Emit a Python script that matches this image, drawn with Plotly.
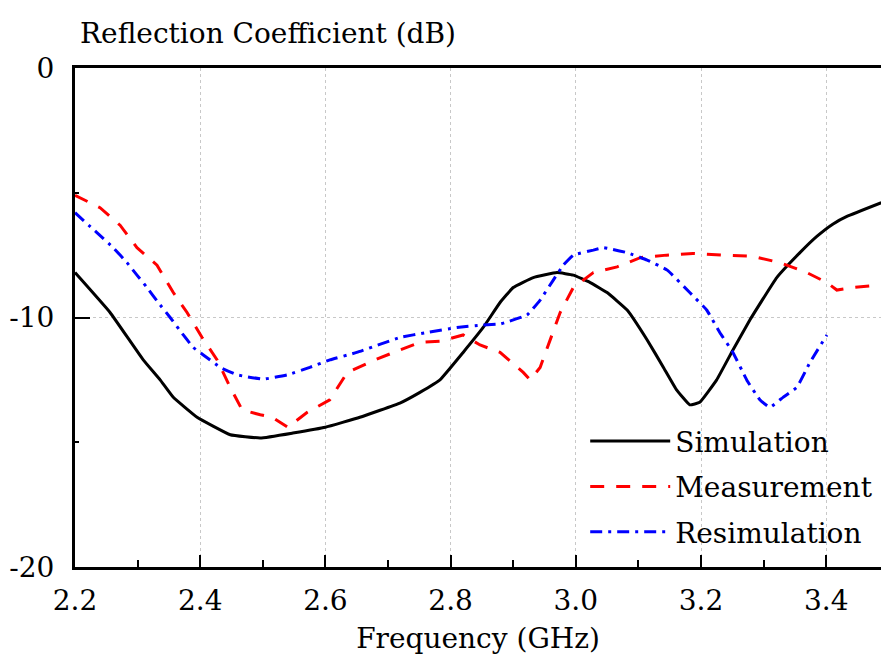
import plotly.graph_objects as go

# ---- data ----
freq_sim = [2.2, 2.256, 2.309, 2.336, 2.357, 2.395, 2.448, 2.496, 2.548, 2.6, 2.655,
            2.719, 2.751, 2.783, 2.82, 2.852, 2.879, 2.9, 2.932, 2.97, 2.996, 3.023,
            3.05, 3.082, 3.114, 3.14, 3.161, 3.182, 3.198, 3.225, 3.251, 3.278,
            3.321, 3.358, 3.385, 3.411, 3.433, 3.488]
s11_sim = [-8.2, -9.8, -11.7, -12.5, -13.2, -14.0, -14.7, -14.83, -14.63, -14.4, -14.0,
           -13.43, -13.0, -12.5, -11.4, -10.4, -9.4, -8.8, -8.4, -8.2, -8.3, -8.6,
           -9.0, -9.7, -10.9, -12.0, -12.9, -13.5, -13.4, -12.5, -11.3, -10.1,
           -8.4, -7.4, -6.75, -6.25, -5.95, -5.4]

freq_meas = [2.2, 2.24, 2.272, 2.299, 2.331, 2.357, 2.379, 2.403, 2.427, 2.448, 2.467,
             2.496, 2.515, 2.54, 2.571, 2.607, 2.635, 2.679, 2.719, 2.751, 2.783,
             2.82, 2.847, 2.879, 2.916, 2.927, 2.943, 2.959, 2.975, 2.996, 3.028,
             3.066, 3.103, 3.145, 3.187, 3.235, 3.283, 3.326, 3.369, 3.401, 3.417,
             3.443, 3.486]
s11_meas = [-5.1, -5.6, -6.3, -7.2, -7.9, -9.0, -9.8, -10.8, -11.7, -12.8, -13.7,
            -13.9, -14.0, -14.4, -13.8, -13.3, -12.2, -11.7, -11.3, -11.0, -10.95,
            -10.7, -11.1, -11.4, -12.2, -12.5, -12.0, -10.9, -9.8, -8.8, -8.2,
            -7.97, -7.6, -7.5, -7.43, -7.5, -7.55, -7.8, -8.2, -8.6, -8.9,
            -8.8, -8.7]

freq_resim = [2.2, 2.235, 2.261, 2.283, 2.299, 2.315, 2.333, 2.352, 2.373, 2.389, 2.405,
              2.432, 2.459, 2.501, 2.539, 2.575, 2.607, 2.65, 2.719, 2.762, 2.81,
              2.852, 2.879, 2.922, 2.943, 2.964, 2.98, 2.996, 3.028, 3.044, 3.082,
              3.114, 3.146, 3.182, 3.209, 3.23, 3.251, 3.273, 3.294, 3.31, 3.331,
              3.353, 3.374, 3.401]
s11_resim = [-5.8, -6.6, -7.2, -7.8, -8.3, -8.8, -9.4, -10.0, -10.7, -11.2, -11.5,
             -12.0, -12.3, -12.47, -12.3, -12.0, -11.7, -11.4, -10.8, -10.6, -10.4,
             -10.3, -10.26, -9.9, -9.3, -8.5, -7.9, -7.5, -7.3, -7.2, -7.4,
             -7.7, -8.1, -9.0, -9.7, -10.6, -11.4, -12.5, -13.3, -13.6, -13.2,
             -12.8, -11.8, -10.7]

x_ticks = [2.2, 2.4, 2.6, 2.8, 3.0, 3.2, 3.4]
x_tick_text = ["2.2", "2.4", "2.6", "2.8", "3.0", "3.2", "3.4"]
y_ticks = [0, -10, -20]
y_tick_text = ["0", "-10", "-20"]

FONT = "DejaVu Serif"
FS = 28

fig = go.Figure()
fig.add_trace(go.Scatter(x=freq_sim, y=s11_sim, name="Simulation", mode="lines",
                         legendgroup="a",
                         line=dict(color="black", width=3, shape="spline", smoothing=0.3)))
fig.add_trace(go.Scatter(x=freq_meas, y=s11_meas, name="Measurement", mode="lines",
                         legendgroup="b",
                         line=dict(color="red", width=3, dash="14px,12px")))
fig.add_trace(go.Scatter(x=freq_resim, y=s11_resim, name="Resimulation", mode="lines",
                         legendgroup="c",
                         line=dict(color="blue", width=3, dash="12px,6px,3px,6px",
                                   shape="spline", smoothing=0.3)))

fig.update_layout(
    width=881, height=659,
    margin=dict(l=75, r=0, t=68, b=92),
    paper_bgcolor="white", plot_bgcolor="white",
    font=dict(family=FONT, size=FS, color="black"),
    showlegend=True,
    legend=dict(x=0.633, y=0.302, xanchor="left", yanchor="top",
                bgcolor="rgba(0,0,0,0)", font=dict(size=FS, family=FONT),
                itemwidth=80, tracegroupgap=6),
    annotations=[dict(text="Reflection Coefficient (dB)", xref="paper", yref="paper",
                      x=0.0037, y=1.07, xanchor="left", yanchor="middle",
                      showarrow=False, font=dict(size=FS, family=FONT))],
)

fig.update_xaxes(
    range=[2.2, 3.4875], tickvals=x_ticks, ticktext=x_tick_text,
    ticks="inside", ticklen=12, tickwidth=2, tickcolor="black",
    minor=dict(dtick=0.1, tick0=2.2, ticks="inside", ticklen=7, tickwidth=2,
               tickcolor="black", showgrid=False),
    showline=True, linewidth=3, linecolor="black", mirror=True,
    showgrid=True, gridcolor="#c8c8c8", griddash="dot", gridwidth=1,
    zeroline=False, tickfont=dict(size=FS, family=FONT),
    ticklabelstandoff=6,
    title=dict(text="Frequency (GHz)", font=dict(size=FS, family=FONT), standoff=13),
)
fig.update_yaxes(
    range=[-20, 0], tickvals=y_ticks, ticktext=y_tick_text,
    ticks="inside", ticklen=15, tickwidth=2, tickcolor="black",
    minor=dict(dtick=5, tick0=0, ticks="inside", ticklen=4, tickwidth=2,
               tickcolor="black", showgrid=False),
    showline=True, linewidth=3, linecolor="black",
    showgrid=True, gridcolor="#c8c8c8", griddash="dot", gridwidth=1,
    zeroline=False, tickfont=dict(size=FS, family=FONT),
    ticklabelstandoff=12,
)

fig.write_html("out.html")
